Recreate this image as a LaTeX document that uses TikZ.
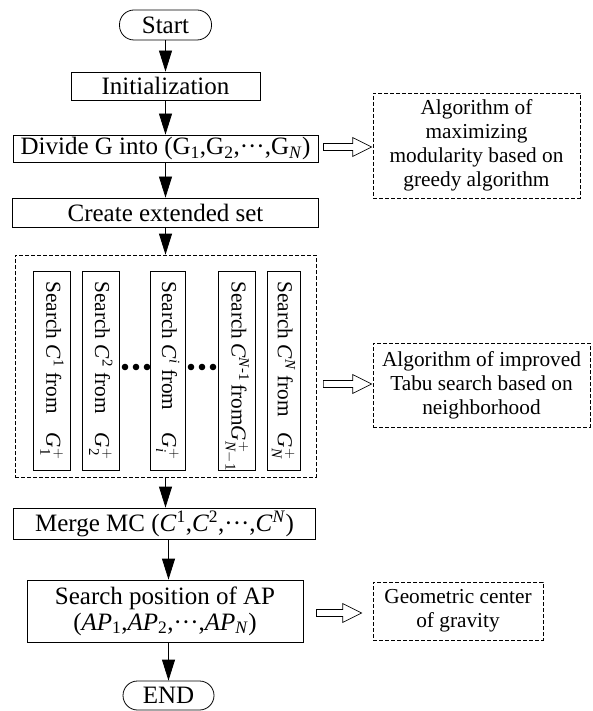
\documentclass[tikz,border=0pt]{standalone}
\usepackage{fontspec}
\usepackage{amsmath}
\setmainfont{Liberation Serif}
\usetikzlibrary{arrows.meta,calc,positioning}

\newcommand{\Ci}[1]{\textit{C}$^{\text{#1}}$}
\newcommand{\Gi}[1]{\textit{G}$^{+}_{\text{#1}}$}
\newcommand{\mdots}{\textperiodcentered\textperiodcentered\textperiodcentered}
\newcommand{\colline}[2]{\hbox to 178pt{Search #1 from\hfill#2}}
\newcommand{\hollowarr}[2]{%
  \draw[hollow] let \p1=#1, \p2=#2 in
    (\x1,\y1+3.5pt) -- (\x2-19pt,\y1+3.5pt) -- (\x2-19pt,\y1+9.5pt) -- (\x2,\y1)
    -- (\x2-19pt,\y1-9.5pt) -- (\x2-19pt,\y1-3.5pt) -- (\x1,\y1-3.5pt) -- cycle;}

\tikzset{
  flow/.style={draw, line width=0.8pt, inner sep=0pt, align=center,
    font=\fontsize{25}{26}\selectfont},
  term/.style={flow, rounded corners=14.5pt},
  note/.style={draw, dash pattern=on 4pt off 2pt, line width=0.7pt, inner sep=0pt,
    align=center, font=\fontsize{21.3}{24}\selectfont},
  colbox/.style={draw, line width=0.8pt, inner sep=0pt, rotate=-90,
    minimum width=199pt, font=\fontsize{21.3}{24}\selectfont},
  link/.style={-{Triangle[length=21pt,width=13pt]}, line width=0.8pt},
  hollow/.style={fill=white, line width=0.7pt}
}

\begin{document}
\begin{tikzpicture}[x=1pt, y=-1pt]
\useasboundingbox (0,0) rectangle (592,711);

% main flow
\node[term, minimum width=92pt, minimum height=30pt] (start) at (165.5,25) {Start};
\node[flow, minimum width=189pt, minimum height=28pt] (init) at (165.5,86) {Initialization};
\node[flow, minimum width=305pt, minimum height=27pt] (divide) at (165.5,148.5)
  {Divide G into (G\textsubscript{1},G\textsubscript{2},\mdots,G\textsubscript{\textit{N}})};
\node[flow, minimum width=306pt, minimum height=29pt] (create) at (165.5,212.5) {Create extended set};
\node[note, minimum width=301pt, minimum height=222pt] (searchset) at (165.5,366) {};
\node[flow, minimum width=302pt, minimum height=31pt] (merge) at (164.5,523.5)
  {Merge MC (\Ci{1},\Ci{2},\mdots,\Ci{\textit{N}})};
\node[flow, minimum width=276pt, minimum height=62pt] (position) at (165,611)
  {Search position of AP\\(\textit{AP}\textsubscript{1},\textit{AP}\textsubscript{2},\mdots,\textit{AP}\textsubscript{\textit{N}})};
\node[term, minimum width=91pt, minimum height=29pt] (stop) at (168.5,695.5) {END};

% parallel searches
\node[colbox, minimum height=37pt] (col1) at (52,370.5) {\colline{\Ci{1}}{\Gi{1}}};
\node[colbox, minimum height=36.5pt] (col2) at (100.75,370.5) {\colline{\Ci{2}}{\Gi{2}}};
\node[colbox, minimum height=34.5pt] (col3) at (167.75,370.5) {\colline{\Ci{\textit{i}}}{\Gi{\textit{i}}}};
\node[colbox, minimum height=36.5pt] (col4) at (236.75,370.5)
  {\hbox to 178pt{Search \Ci{\textit{N}-1} from\hfill\Gi{\textit{N}$-$1}}};
\node[colbox, minimum height=33pt] (col5) at (283.5,370.5) {\colline{\Ci{\textit{N}}}{\Gi{\textit{N}}}};
\foreach \x in {125,136,147,191,202,213}
  \fill (\x,367) circle (3.3pt);

% notes
\node[note, minimum width=207pt, minimum height=105pt] (greedy) at (476.5,145.5)
  {Algorithm of\\maximizing\\modularity based on\\greedy algorithm};
\node[note, minimum width=217pt, minimum height=84pt] (tabu) at (481.5,385)
  {Algorithm of improved\\Tabu search based on\\neighborhood};
\node[note, minimum width=170pt, minimum height=58pt] (gravity) at (458,611)
  {Geometric center\\of gravity};

% connectors
\draw[link] (start) -- (init);
\draw[link] (init) -- (divide);
\draw[link] (divide) -- (create);
\draw[link] (create) -- (searchset);
\draw[link] (searchset.south) -- (searchset.south |- merge.north);
\draw[link] (merge.south -| stop) -- (position.north -| stop);
\draw[link] (position.south -| stop) -- (stop.north);

\hollowarr{($(divide.east)+(5,-1.5)$)}{($(greedy.west)+(-1,0)$)}
\hollowarr{($(searchset.east)+(7,18)$)}{($(tabu.west)+(-1,0)$)}
\hollowarr{($(position.east)+(13,2)$)}{($(gravity.west)+(-11,0)$)}
\end{tikzpicture}
\end{document}
